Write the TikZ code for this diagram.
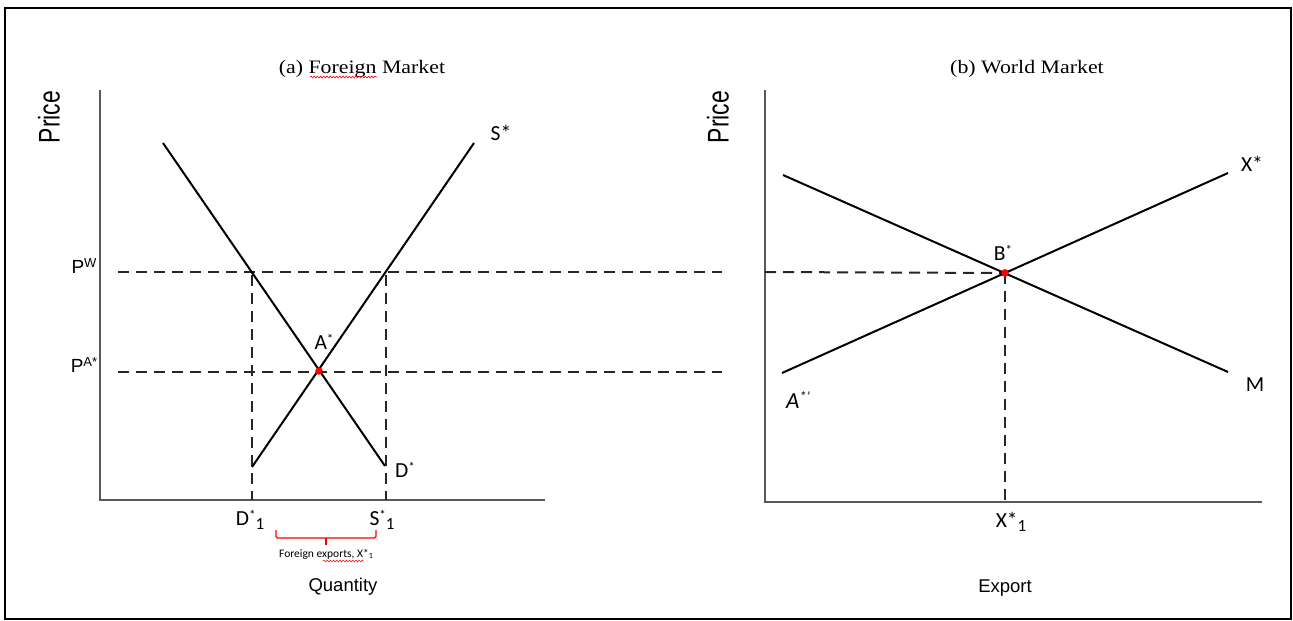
\documentclass[tikz,border=0pt]{standalone}
\usepackage{fontspec}
\usepackage{graphicx}
\usetikzlibrary{decorations.pathmorphing}
\newfontfamily\labf{Carlito}
\newfontfamily\arl{Liberation Sans}
\newfontfamily\tms{Liberation Serif}
\newcommand{\fs}[1]{\fontsize{#1}{#1}\selectfont}
\begin{document}
\begin{tikzpicture}[x=1pt,y=-1pt,
  curve/.style={line width=2pt, black},
  axis/.style={line width=1.6pt, black!65},
  guide/.style={line width=2pt, black!85, dash pattern=on 11pt off 7pt},
  lab/.style={inner sep=0pt, font=\labf\fs{21.5}},
  sans/.style={inner sep=0pt, font=\arl\fs{18.5}},
  ttl/.style={inner sep=0pt, font=\tms\fs{19}},
  eq/.style={circle, fill=red, inner sep=0pt, minimum size=7.5pt},
  spell/.style={red, line width=0.6pt, decorate, decoration={snake, amplitude=0.9pt, segment length=3.2pt}},
  brace/.style={red, line width=1.1pt, rounded corners=1.5pt}]
\useasboundingbox (0,0) rectangle (1293,621);
\draw[line width=1.8pt] (5,8) rectangle (1291,619);

% ---------- (a) Foreign market ----------
\node[ttl] (ta) at (362,69) {\scalebox{1.15}[1]{(a) Foreign Market}};
\draw[spell] (310,77) -- (377,77);
\node[inner sep=0pt] (pa) at (49,117) {\scalebox{1.3}[1]{\rotatebox{90}{\arl\fs{23}Price}}};
\coordinate (oa) at (100,500);
\coordinate (ya) at (100,90);
\coordinate (xa) at (545,500);
\draw[axis] (ya) -- (oa) -- (xa);

\coordinate (pw0) at (118,272);
\coordinate (pw1) at (722,272);
\coordinate (pa0) at (118,372);
\coordinate (pa1) at (722,372);
\draw[guide] (pw0) -- (pw1);
\draw[guide] (pa0) -- (pa1);
\coordinate (d1t) at (252,275);
\coordinate (d1b) at (252,500);
\coordinate (s1t) at (386,275);
\coordinate (s1b) at (386,500);
\draw[guide] (d1t) -- (d1b);
\draw[guide] (s1t) -- (s1b);

\coordinate (dA) at (163,143);
\coordinate (dB) at (385,466);
\coordinate (sA) at (252,467);
\coordinate (sB) at (474,143);
\draw[curve] (dA) -- (dB);
\draw[curve] (sA) -- (sB);
\node[eq] (astar) at (319,371) {};

\node[inner sep=0pt] (lpw) at (84,266) {\arl\fs{19}P\raisebox{0.55ex}{\fs{13}W}};
\node[inner sep=0pt] (lpa) at (84,365) {\arl\fs{19}P\raisebox{0.55ex}{\fs{13}A*}};
\node[lab] (la) at (324,342) {A\raisebox{0.6ex}{\fs{13}*}};
\node[lab] (ld) at (405,470) {D\raisebox{0.6ex}{\fs{13}*}};
\node[lab] (ls) at (501,133) {S*};
\node[lab] (ld1) at (250,520) {D\raisebox{0.6ex}{\fs{13}*}\raisebox{-0.35ex}{\fs{17}1}};
\node[lab] (ls1) at (382,520) {S\raisebox{0.6ex}{\fs{13}*}\raisebox{-0.35ex}{\fs{17}1}};

\coordinate (b0) at (276,530);
\coordinate (b1) at (376,530);
\coordinate (bm) at (326,538);
\draw[brace] (b0) |- (bm) -| (b1);
\draw[brace] (bm) -- ++(0,7);
\node[inner sep=0pt] (fe) at (326,554) {\labf\fs{11.5}Foreign exports, X*\raisebox{-0.3ex}{\fs{8}1}};
\draw[spell, line width=0.5pt] (323,561) -- (364,561);
\node[sans] (q) at (343,587) {Quantity};

% ---------- (b) World market ----------
\node[ttl] (tb) at (1027,69) {\scalebox{1.15}[1]{(b) World Market}};
\node[inner sep=0pt] (pb) at (718,117) {\scalebox{1.3}[1]{\rotatebox{90}{\arl\fs{23}Price}}};
\coordinate (ob) at (765,502);
\coordinate (yb) at (765,90);
\coordinate (xb) at (1262,502);
\draw[axis] (yb) -- (ob) -- (xb);

\coordinate (xA) at (782,373);
\coordinate (xB) at (1228,173);
\coordinate (mA) at (783,175);
\coordinate (mB) at (1228,372);
\coordinate (bw0) at (765,272);
\coordinate (bx0) at (1005,502);
\node[eq] (bstar) at (1005,273) {};
\draw[guide] (bw0) -- (bstar.center);
\draw[guide] (bstar.center) -- (bx0);
\draw[curve] (xA) -- (xB);
\draw[curve] (mA) -- (mB);
\node[eq] at (bstar) {};

\node[lab] (lb) at (1003,253) {B\raisebox{0.6ex}{\fs{13}*}};
\node[lab] (lx) at (1252,164) {X*};
\node[lab] (lm) at (1255,385) {M};
\node[lab] (laa) at (798,400) {\fs{23}\itshape A\raisebox{0.7ex}{\fs{14}*\textquoteright}};
\node[lab] (lx1) at (1011,522) {X*\raisebox{-0.35ex}{\fs{17}1}};
\node[sans] (ex) at (1005,588) {Export};
\end{tikzpicture}
\end{document}
